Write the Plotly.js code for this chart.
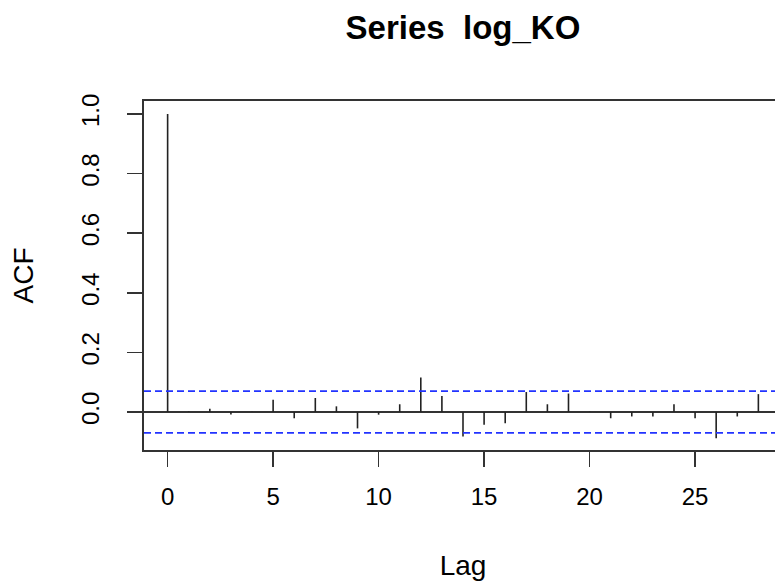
<!DOCTYPE html>
<html>
<head>
<meta charset="utf-8">
<script src="https://cdn.plot.ly/plotly-3.0.1.min.js"></script>
<style>
html, body { margin: 0; padding: 0; overflow: hidden; background: #fff; width: 775px; height: 582px; }
#chart { width: 790px; height: 582px; }
</style>
</head>
<body>
<div id="chart"></div>
<script>
// ACF values (lags 0..28)
const lags = [0,1,2,3,4,5,6,7,8,9,10,11,12,13,14,15,16,17,18,19,20,21,22,23,24,25,26,27,28];
const acfValues = [1.0, 0.002, 0.011, -0.008, 0.001, 0.041, -0.021, 0.047, 0.019, -0.055,
  -0.009, 0.026, 0.116, 0.054, -0.082, -0.043, -0.038, 0.067, 0.026, 0.062,
  0.001, -0.021, -0.015, -0.015, 0.026, -0.021, -0.088, -0.015, 0.060];
const ciValue = 0.07;
const xTicks = [0, 5, 10, 15, 20, 25];
const yTicks = [0.0, 0.2, 0.4, 0.6, 0.8, 1.0];
const yTickText = ["0.0", "0.2", "0.4", "0.6", "0.8", "1.0"];
const chartTitle = "Series\u00a0\u00a0log_KO";

// spikes (R type="h")
const sx = [], sy = [];
lags.forEach((l, i) => { sx.push(l, l, null); sy.push(0, acfValues[i], null); });

const font = 'Liberation Sans, Arial, sans-serif';
const traces = [{
  x: sx, y: sy, type: 'scatter', mode: 'lines',
  line: {color: '#222222', width: 1.6}, hoverinfo: 'skip', showlegend: false
}];

const layout = {
  width: 790, height: 582,
  margin: {l: 144, r: 8, t: 101, b: 132},
  paper_bgcolor: '#ffffff', plot_bgcolor: '#ffffff',
  font: {family: font, color: '#000000', size: 24},
  title: {text: chartTitle, font: {family: font, size: 33, weight: 'bold', color: '#000'},
          x: 0.5, xref: 'paper', y: 1 - 27/582, yref: 'container', yanchor: 'middle'},
  xaxis: {
    range: [-1.12, 29.12], tickvals: xTicks, ticks: 'outside', ticklen: 15, tickwidth: 1.5,
    tickcolor: '#333', showline: true, mirror: true, linecolor: '#333', linewidth: 1.6,
    showgrid: false, zeroline: false, ticklabelstandoff: 10,
    tickfont: {size: 24, color: '#000'},
    title: {text: 'Lag', font: {size: 28, color: '#000'}, standoff: 46}
  },
  yaxis: {
    range: [-0.1275, 1.0436], tickvals: yTicks, ticktext: yTickText, tickangle: -90,
    ticks: 'outside', ticklen: 15, tickwidth: 1.5, tickcolor: '#333',
    showline: true, mirror: true, linecolor: '#333', linewidth: 1.6,
    showgrid: false, zeroline: true, zerolinecolor: '#333', zerolinewidth: 1.6,
    ticklabelstandoff: 19,
    tickfont: {size: 24, color: '#000'},
    title: {text: 'ACF', font: {size: 28, color: '#000'}, standoff: 35}
  },
  shapes: [ciValue, -ciValue].map(v => ({
    type: 'line', xref: 'paper', x0: 0, x1: 1, yref: 'y', y0: v, y1: v,
    line: {color: '#2233ff', width: 1.6, dash: '7px,4px'}
  }))
};

Plotly.newPlot('chart', traces, layout, {displayModeBar: false, staticPlot: true});
</script>
</body>
</html>
